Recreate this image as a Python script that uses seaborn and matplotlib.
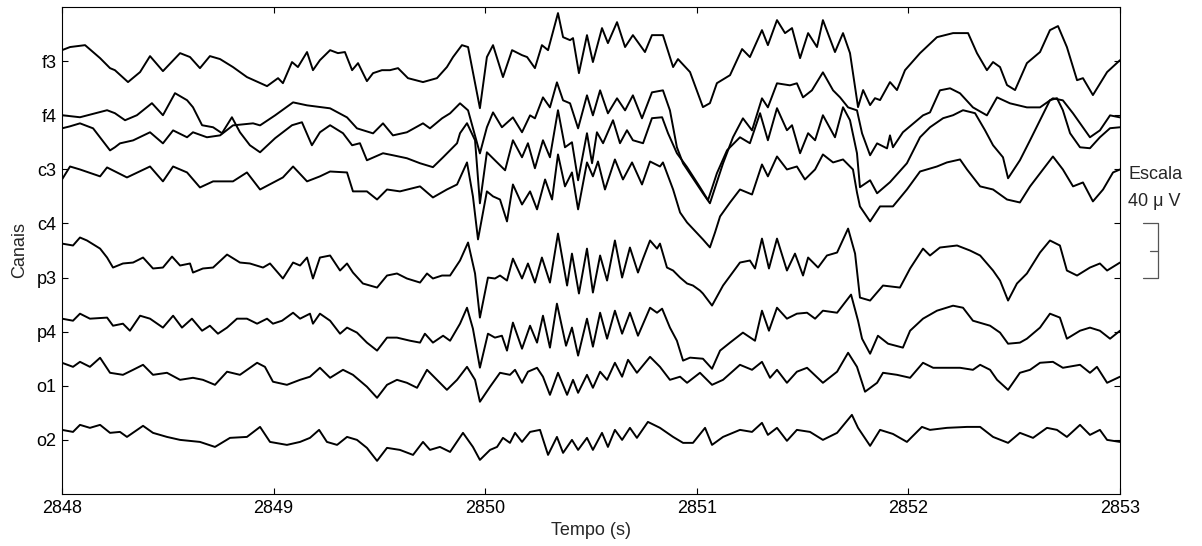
import numpy as np
import pandas as pd
import matplotlib
matplotlib.use("Agg")
import matplotlib.pyplot as plt
import matplotlib.transforms as mtransforms
import seaborn as sns

# ---------------- data ----------------
T0 = 2848.0                      # start time (s)
channels = ["f3", "f4", "c3", "c4", "p3", "p4", "o1", "o2"]
scale_uv = 40.0                  # microvolts per channel spacing (scale bar)
xticks = [2848, 2849, 2850, 2851, 2852, 2853]

# times (s after T0) and amplitudes (uV, relative to channel baseline)
t_f3 = [0, .038, .109, .180, .227, .250, .312, .369, .416, .477, .558, .605, .652, .699, .747, .808, .874, .969, 1.021, 1.044,
        1.087, 1.115, 1.158, 1.186, 1.219, 1.267, 1.304, 1.337, 1.371, 1.399, 1.441, 1.470, 1.512, 1.550, 1.588, 1.635, 1.706, 1.772, 1.819, 1.848,
        1.890, 1.919, 1.975, 2.008, 2.037, 2.084, 2.127, 2.174, 2.198, 2.235, 2.268, 2.297, 2.344, 2.368, 2.401, 2.415, 2.443, 2.481, 2.509, 2.552,
        2.580, 2.623, 2.661, 2.698, 2.755, 2.788, 2.840, 2.888, 2.911, 2.968, 3.029, 3.062, 3.095, 3.157, 3.214, 3.251, 3.308, 3.336, 3.379, 3.417,
        3.450, 3.488, 3.526, 3.568, 3.596, 3.653, 3.691, 3.724, 3.762, 3.786, 3.819, 3.842, 3.866, 3.913, 3.946, 3.984, 4.055, 4.135, 4.211, 4.282,
        4.324, 4.371, 4.400, 4.433, 4.466, 4.504, 4.560, 4.622, 4.669, 4.707, 4.749, 4.797, 4.825, 4.872, 4.939, 5.000]
v_f3 = [8.1, 10.4, 11.8, 2.2, -5.2, -6.7, -15.5, -8.1, 3.7, -7.4, 5.9, 3.0, -5.2, 3.7, 1.5, -4.4, -11.8, -18.5, -12.6, -16.3,
        -0.7, -4.4, 6.7, -6.7, 0.7, 8.1, 5.9, 6.7, -6.7, -1.5, -14.8, -8.9, -6.7, -6.7, -5.2, -12.6, -15.5, -12.6, -4.4, 3.0,
        11.8, 10.4, -34.8, 3.0, 11.8, -11.8, 8.1, 4.4, 3.0, -5.2, 11.8, 8.1, 35.5, 17.7, 15.5, 17.0, -8.9, 19.2, -0.7, 24.4,
        13.3, 28.8, 10.4, 19.2, 6.7, 19.2, 19.2, -4.4, 1.5, -8.1, -34.0, -31.1, -16.3, -10.4, 8.9, 3.0, 22.9, 11.8, 30.3, 20.7,
        24.4, 2.2, 20.7, 10.4, 30.3, 6.7, 20.7, 5.9, -34.0, -21.4, -32.5, -27.4, -28.8, -15.5, -21.4, -6.7, 5.9, 17.7, 20.7, 20.7,
        5.9, -6.7, -0.7, -4.4, -17.7, -21.4, -1.5, 6.7, 22.9, 25.9, 10.4, -14.1, -12.6, -25.1, -8.1, 0.7]

t_f4 = [0, .085, .213, .250, .298, .354, .425, .477, .534, .591, .619, .662, .714, .756, .803, .841, .888, .936, 1.007, 1.087,
        1.134, 1.181, 1.219, 1.267, 1.328, 1.371, 1.408, 1.441, 1.517, 1.564, 1.630, 1.692, 1.753, 1.801, 1.867,
        1.881, 1.914, 1.952, 1.975, 2.008, 2.046, 2.094, 2.131, 2.174, 2.202, 2.235, 2.273, 2.306, 2.344, 2.377, 2.410, 2.439, 2.481, 2.505, 2.528,
        2.557, 2.604, 2.637, 2.670, 2.698, 2.746, 2.788, 2.836, 2.864, 2.906, 2.954,
        3.015, 3.053, 3.095, 3.143, 3.204, 3.251, 3.299, 3.336, 3.379, 3.426, 3.450, 3.488, 3.526, 3.559, 3.596, 3.653, 3.691, 3.724, 3.757, 3.771,
        3.819, 3.852, 3.913, 3.993, 4.055,
        4.102, 4.164, 4.211, 4.258, 4.315, 4.362, 4.400, 4.447, 4.471, 4.527, 4.575, 4.622, 4.669, 4.702, 4.730, 4.764, 4.811, 4.858, 4.905, 4.953, 5.000]
v_f4 = [0, -1.5, 3.7, 1.5, -3.7, 0, 8.9, 0, 16.3, 11.1, 5.9, -7.4, -8.9, -13.3, -1.5, -12.6, -22.2, -27.4, -17.0, -7.4,
        -5.2, -22.2, -12.6, -7.4, -13.3, -22.2, -20.7, -33.3, -28.1, -29.6, -31.8, -35.5, -38.4, -31.1, -20.7,
        -13.3, -5.9, -18.5, -65.1, -27.4, -33.3, -40.7, -18.5, -31.1, -20.7, -39.2, -18.5, -31.1, 3.7, -23.7, -20.0, -48.1, -13.3, -35.5, -12.6,
        -20.7, -3.7, -20.7, -11.1, -18.5, -20.7, -2.2, -1.5, -13.3, -28.1, -38.4,
        -53.2, -62.8, -42.9, -25.9, -16.3, -20.7, 1.5, -18.5, 5.2, -11.1, -7.4, -28.1, -13.3, -18.5, 0, -16.3, 5.9, -3.7, -28.1, -53.2,
        -48.1, -57.7, -49.5, -35.5, -16.3,
        -8.9, -2.2, 0, 3.7, 1.5, -11.1, -22.2, -31.1, -46.6, -33.3, -18.5, -3.7, 11.1, 12.6, 3.7, -13.3, -23.7, -24.4, -16.3, -9.6, -8.9]

t_c3 = [0, .038, .085, .147, .227, .250, .274, .336, .416, .477, .525, .591, .619, .685, .747, .808, .903,
        .936, 1.007, 1.092, 1.158, 1.267, 1.347, 1.394, 1.470, 1.517, 1.564, 1.630, 1.706, 1.739, 1.796, 1.834, 1.881, 1.919, 1.975, 2.008, 2.037,
        2.079, 2.131, 2.174, 2.212, 2.235, 2.273, 2.306, 2.339, 2.368, 2.401, 2.439, 2.481, 2.509, 2.543, 2.580, 2.623, 2.661, 2.698, 2.741, 2.788,
        2.840, 2.873, 2.906, 2.935,
        3.029, 3.062, 3.124, 3.171, 3.218, 3.261, 3.308, 3.336, 3.379, 3.440, 3.473, 3.502, 3.544, 3.596, 3.644, 3.677, 3.715, 3.757, 3.781, 3.819,
        3.852, 3.899, 3.913, 3.927, 3.974, 4.069,
        4.102, 4.149, 4.197, 4.244, 4.305, 4.371, 4.419, 4.480, 4.560, 4.622, 4.683, 4.730, 4.778, 4.858, 4.905, 4.953, 5.000]
v_c3 = [30.3, 31.8, 34.0, 30.3, 14.0, 16.3, 19.2, 21.4, 27.4, 19.2, 28.8, 23.7, 27.4, 23.7, 25.1, 32.5, 34.0,
        32.5, 39.9, 49.5, 47.3, 45.1, 38.4, 30.3, 26.6, 34.0, 25.1, 27.4, 34.0, 30.3, 37.7, 41.4, 48.8, 43.6, 11.8, 31.1, 42.1,
        31.1, 38.4, 27.4, 39.9, 37.7, 53.2, 45.8, 64.3, 51.0, 48.8, 30.3, 54.7, 39.9, 58.4, 41.4, 52.5, 43.6, 54.7, 37.7, 56.9,
        58.4, 43.6, 16.3, 4.4,
        -17.7, -25.1, 4.4, 23.7, 37.7, 28.8, 52.5, 45.8, 63.6, 62.1, 63.6, 53.2, 58.4, 71.7, 58.4, 53.2, 45.8, 43.6, 26.6, 10.4,
        19.2, 15.5, 25.1, 16.3, 27.4, 39.9,
        42.1, 58.4, 59.9, 56.2, 45.8, 39.9, 53.2, 48.8, 45.8, 45.8, 52.5, 51.0, 41.4, 23.7, 28.8, 39.9, 38.4]

t_c4 = [0, .038, .085, .180, .213, .307, .416, .477, .525, .591,
        .652, .714, .808, .874, .936, 1.044, 1.092, 1.158, 1.219, 1.267,
        1.347, 1.375, 1.441, 1.489, 1.536, 1.597, 1.692, 1.753, 1.819, 1.867,
        1.914, 1.942, 1.966, 2.008, 2.037, 2.070, 2.103, 2.131, 2.174, 2.212,
        2.245, 2.283, 2.316, 2.344, 2.377, 2.410, 2.439, 2.481, 2.509, 2.533,
        2.566, 2.613, 2.651, 2.694, 2.741, 2.779, 2.826, 2.840, 2.888, 2.921,
        2.954, 3.029, 3.062, 3.086, 3.110, 3.157, 3.204, 3.261, 3.308, 3.336,
        3.379, 3.426, 3.473, 3.511, 3.559, 3.596, 3.644, 3.691, 3.738, 3.757,
        3.771, 3.819, 3.866, 3.927, 3.993, 4.055, 4.135, 4.182, 4.244, 4.277,
        4.339, 4.400, 4.466, 4.527, 4.575, 4.636, 4.683, 4.730, 4.778, 4.825,
        4.872, 4.920, 4.967, 5.000]
v_c4 = [32.5, 42.1, 39.9, 34.8, 41.4, 34.0, 42.1, 31.1, 42.1, 37.7,
        26.6, 31.1, 31.1, 37.7, 25.1, 34.0, 42.1, 31.1, 34.8, 38.4,
        37.7, 23.7, 23.7, 17.7, 25.1, 23.7, 27.4, 19.2, 25.1, 28.8,
        45.1, 20.0, -11.8, 23.7, 20.0, 17.7, 1.5, 28.8, 14.0, 23.7,
        10.4, 32.5, 17.7, 51.0, 27.4, 37.7, 10.4, 45.1, 34.8, 45.8,
        25.1, 47.3, 32.5, 45.1, 28.8, 45.8, 42.1, 45.1, 25.1, 8.1,
        0.7, -11.8, -17.7, -6.7, 5.2, 15.5, 25.1, 21.4, 43.6, 34.8,
        49.5, 39.9, 42.1, 32.5, 39.9, 51.0, 45.1, 47.3, 39.9, 22.9,
        12.6, 1.5, 12.6, 12.6, 25.1, 38.4, 42.1, 45.1, 47.3, 39.9,
        27.4, 25.1, 17.7, 15.5, 27.4, 39.9, 49.5, 39.9, 27.4, 30.3,
        16.3, 25.1, 37.7, 39.9]

t_p3 = [0, .052, .085, .118, .180, .213, .241, .288, .336, .383,
        .430, .477, .520, .558, .605, .619, .666, .714, .780, .841,
        .888, .950, .983, 1.044, 1.092, 1.125, 1.158, 1.186, 1.219, 1.267,
        1.314, 1.347, 1.375, 1.422, 1.489, 1.536, 1.583, 1.630, 1.692, 1.725,
        1.753, 1.796, 1.834, 1.881, 1.919, 1.952, 1.975, 2.013, 2.046, 2.070,
        2.103, 2.131, 2.174, 2.202, 2.235, 2.268, 2.306, 2.344, 2.387, 2.410,
        2.443, 2.481, 2.509, 2.543, 2.576, 2.613, 2.647, 2.684, 2.722, 2.746,
        2.779, 2.812, 2.826, 2.859, 2.888, 2.921, 2.954, 2.982, 3.015, 3.029,
        3.072, 3.124, 3.204, 3.251, 3.275, 3.308, 3.341, 3.379, 3.426, 3.464,
        3.502, 3.526, 3.573, 3.615, 3.663, 3.715, 3.748, 3.771, 3.819, 3.880,
        3.960, 4.008, 4.069, 4.102, 4.149, 4.230, 4.291, 4.339, 4.400, 4.433,
        4.471, 4.513, 4.560, 4.622, 4.669, 4.716, 4.749, 4.797, 4.858, 4.905,
        4.939, 5.000]
v_p3 = [25.1, 23.7, 29.6, 27.4, 21.4, 14.8, 7.4, 10.4, 11.1, 14.8,
        6.7, 7.4, 15.5, 8.9, 10.4, 3.7, 6.7, 7.4, 17.0, 11.1,
        10.4, 7.4, 10.4, -0.7, 11.1, 8.9, 14.8, -0.7, 14.8, 16.3,
        5.2, 10.4, 3.7, -4.4, -7.4, 1.5, 3.0, -0.7, -3.7, 3.0,
        -0.7, 1.5, 1.5, 12.6, 25.9, 3.0, -29.6, 0, -0.7, 1.5,
        -2.2, 14.0, -0.7, 10.4, -3.7, 14.8, -3.7, 32.5, -5.9, 17.7,
        -11.8, 21.4, -11.1, 16.3, -2.2, 27.4, 0, 22.2, 3.7, 14.0,
        27.4, 21.4, 25.1, 7.4, 5.2, 0, -4.4, -5.9, -9.6, -11.8,
        -20.7, -5.9, 11.1, 12.6, 6.7, 28.8, 6.7, 28.8, 5.2, 17.7,
        1.5, 14.8, 7.4, 16.3, 18.5, 36.2, 17.7, -14.8, -17.0, -5.9,
        -7.4, 6.7, 21.4, 16.3, 22.2, 23.7, 20.0, 16.3, 5.2, -2.2,
        -17.0, -4.4, 3.0, 18.5, 27.4, 23.7, 5.2, 1.5, 7.4, 10.4,
        5.2, 11.1]

t_p4 = [0, .052, .085, .132, .213, .241, .288, .321, .369, .416,
        .477, .525, .567, .614, .662, .699, .737, .780, .827, .874,
        .922, .969, .997, 1.040, 1.092, 1.125, 1.172, 1.186, 1.219, 1.267,
        1.314, 1.347, 1.394, 1.441, 1.489, 1.536, 1.583, 1.645, 1.692, 1.715,
        1.753, 1.801, 1.834, 1.881, 1.914, 1.942, 1.975, 2.013, 2.046, 2.079,
        2.103, 2.131, 2.174, 2.212, 2.245, 2.273, 2.306, 2.339, 2.382, 2.410,
        2.439, 2.481, 2.509, 2.543, 2.576, 2.613, 2.647, 2.684, 2.722, 2.779,
        2.812, 2.836, 2.873, 2.906, 2.935, 2.968, 3.029, 3.072, 3.110, 3.157,
        3.218, 3.275, 3.308, 3.341, 3.379, 3.426, 3.473, 3.521, 3.559, 3.596,
        3.663, 3.729, 3.762, 3.781, 3.819, 3.856, 3.904, 3.974, 4.008, 4.069,
        4.135, 4.211, 4.258, 4.305, 4.386, 4.433, 4.471, 4.527, 4.560, 4.622,
        4.669, 4.716, 4.749, 4.811, 4.858, 4.905, 4.953, 5.000]
v_p4 = [9.6, 8.1, 13.3, 9.6, 10.4, 4.4, 5.9, 0.7, 11.8, 9.6,
        3.0, 11.8, 3.0, 9.6, 0.7, 4.4, -1.5, 3.0, 9.6, 9.6,
        5.9, 9.6, 5.9, 8.1, 14.0, 9.6, 13.3, 5.9, 13.3, 8.1,
        -1.5, 3.0, -0.7, -8.1, -14.0, -4.4, -4.4, -6.7, -8.1, -1.5,
        -8.1, -3.0, -6.7, 5.9, 17.7, 2.2, -26.6, -1.5, -4.4, -3.0,
        -14.0, 6.7, -12.6, 4.4, -8.1, 11.8, -11.8, 20.7, -10.4, 3.0,
        -17.7, 9.6, -11.1, 14.0, -5.2, 15.5, -1.5, 14.0, -3.0, 17.7,
        14.0, 17.0, 3.0, -6.7, -21.4, -19.2, -20.0, -27.4, -14.0, -8.1,
        -0.7, -6.7, 15.5, 0.7, 17.7, 9.6, 13.3, 14.0, 9.6, 15.5,
        14.0, 27.4, 8.1, -5.2, -16.3, -3.0, -8.9, -11.8, 0.7, 9.6,
        15.5, 19.2, 17.7, 8.1, 4.4, -0.7, -8.9, -8.1, -5.2, 3.0,
        13.3, 10.4, -5.2, 0.7, 3.0, 0.7, -5.2, 0.7]

t_o1 = [0, .052, .085, .132, .180, .227, .288, .336, .383, .430,
        .496, .558, .619, .666, .723, .780, .841, .922, .959, .997,
        1.063, 1.125, 1.172, 1.219, 1.267, 1.328, 1.375, 1.441, 1.489, 1.536,
        1.583, 1.630, 1.678, 1.725, 1.772, 1.819, 1.867, 1.914, 1.952, 1.975,
        2.023, 2.070, 2.117, 2.141, 2.174, 2.202, 2.245, 2.273, 2.306, 2.344,
        2.387, 2.415, 2.439, 2.481, 2.509, 2.543, 2.576, 2.613, 2.647, 2.675,
        2.717, 2.779, 2.826, 2.873, 2.921, 2.954, 3.015, 3.072, 3.124, 3.204,
        3.261, 3.308, 3.346, 3.379, 3.426, 3.473, 3.521, 3.596, 3.663, 3.715,
        3.757, 3.795, 3.852, 3.880, 3.946, 4.008, 4.069, 4.117, 4.182, 4.244,
        4.305, 4.339, 4.386, 4.419, 4.471, 4.527, 4.575, 4.622, 4.683, 4.730,
        4.811, 4.858, 4.891, 4.939, 5.000]
v_o1 = [17.0, 14.0, 17.7, 14.0, 20.7, 9.6, 8.1, 11.8, 15.5, 8.1,
        9.6, 4.4, 5.9, 4.4, 0.7, 10.4, 8.1, 17.0, 14.0, 3.0,
        0.7, 4.4, 6.7, 13.3, 5.9, 11.8, 8.1, -0.7, -8.9, 0.7,
        4.4, 2.2, -1.5, 11.8, 4.4, -3.0, 4.4, 14.0, 4.4, -11.8,
        -0.7, 9.6, 8.1, 11.8, 2.2, 10.4, 13.3, 6.7, -6.7, 9.6,
        -6.7, 4.4, -5.2, 8.1, -1.5, 10.4, 4.4, 17.0, 6.7, 19.2,
        9.6, 21.4, 14.0, 4.4, 6.7, 2.2, 9.6, 0.7, 4.4, 15.5,
        11.8, 17.7, 5.9, 11.8, 2.2, 10.4, 13.3, 2.2, 10.4, 24.4,
        14.0, -4.4, 2.2, 9.6, 8.1, 5.9, 17.0, 13.3, 13.3, 13.3,
        11.8, 15.5, 11.8, 4.4, -3.0, 9.6, 11.8, 17.0, 17.7, 13.3,
        15.5, 9.6, 14.0, 2.2, 6.7]

t_o2 = [0, .052, .085, .132, .180, .227, .274, .307, .383, .430,
        .496, .558, .652, .723, .794, .874, .936, .983, 1.063, 1.125,
        1.172, 1.215, 1.252, 1.300, 1.347, 1.394, 1.441, 1.489, 1.536, 1.597,
        1.659, 1.706, 1.739, 1.786, 1.834, 1.895, 1.942, 1.975, 2.023, 2.056,
        2.084, 2.117, 2.141, 2.174, 2.212, 2.259, 2.297, 2.339, 2.368, 2.410,
        2.439, 2.481, 2.509, 2.552, 2.580, 2.613, 2.647, 2.684, 2.717, 2.769,
        2.826, 2.888, 2.935, 2.982, 3.039, 3.072, 3.124, 3.204, 3.261, 3.308,
        3.336, 3.379, 3.426, 3.473, 3.535, 3.596, 3.663, 3.733, 3.762, 3.819,
        3.866, 3.927, 3.993, 4.064, 4.102, 4.182, 4.277, 4.339, 4.400, 4.471,
        4.527, 4.589, 4.655, 4.702, 4.749, 4.811, 4.858, 4.905, 4.939, 5.000]
v_o2 = [7.4, 5.9, 11.1, 8.9, 11.1, 5.2, 5.9, 2.2, 10.4, 5.2,
        2.2, 0, -1.5, -5.2, 1.5, 2.2, 9.6, -1.5, -3.7, -1.5,
        1.5, 7.4, -1.5, -3.7, 2.2, 0, -5.9, -15.5, -5.9, -7.4,
        -11.1, -1.5, -7.4, -5.2, -8.9, 5.2, -5.2, -14.8, -7.4, -5.2,
        1.5, -2.2, 5.2, -1.5, 5.9, 7.4, -11.1, 2.2, -9.6, 0,
        -7.4, 1.5, -7.4, 5.2, -5.2, 7.4, 0, 8.9, 1.5, 13.3,
        8.9, 2.2, -2.2, -2.2, 8.9, -3.7, 2.2, 7.4, 5.9, 12.6,
        3.7, 8.9, -0.7, 7.4, 5.9, 0, 5.2, 18.5, 8.9, -4.4,
        7.4, 4.4, -1.5, 9.6, 7.4, 8.9, 9.6, 9.6, 2.2, -2.2,
        5.2, 1.5, 8.9, 7.4, 2.2, 11.1, 3.7, 7.4, 0, -1.5]

series = {"f3": (t_f3, v_f3), "f4": (t_f4, v_f4), "c3": (t_c3, v_c3), "c4": (t_c4, v_c4),
          "p3": (t_p3, v_p3), "p4": (t_p4, v_p4), "o1": (t_o1, v_o1), "o2": (t_o2, v_o2)}

# ---------------- build long table ----------------
frames = []
n_ch = len(channels)
for i, ch in enumerate(channels):
    t, v = series[ch]
    n = min(len(t), len(v))
    base = n_ch - i
    frames.append(pd.DataFrame({
        "Tempo": T0 + np.asarray(t[:n], float),
        "y": base + np.asarray(v[:n], float) / scale_uv,
        "Canal": ch,
    }))
df = pd.concat(frames, ignore_index=True)

# ---------------- plot ----------------
sns.set_style("ticks")
plt.rcParams["font.family"] = ["Liberation Sans", "DejaVu Sans"]
plt.rcParams["font.size"] = 13

W, H = 1202, 546
fig = plt.figure(figsize=(W / 100, H / 100), dpi=100)
ax = fig.add_axes([62 / W, 52 / H, 1058 / W, 487 / H])

sns.lineplot(data=df, x="Tempo", y="y", units="Canal", estimator=None,
             color="black", linewidth=1.4, sort=False, legend=False, ax=ax)
for ln in ax.get_lines():
    ln.set_solid_joinstyle("round")
    ln.set_solid_capstyle("round")

ax.set_xlim(xticks[0], xticks[-1])
ax.set_ylim(0, n_ch + 1)
ax.set_xticks(xticks)
ax.set_xticklabels([str(x) for x in xticks])
ax.set_yticks(range(1, n_ch + 1))
ax.set_yticklabels(channels[::-1])
ax.set_xlabel("Tempo (s)", fontsize=13, labelpad=4)
ax.set_ylabel("Canais", fontsize=13, labelpad=6)

for s in ax.spines.values():
    s.set_visible(True)
    s.set_color("black")
    s.set_linewidth(0.8)
ax.tick_params(direction="in", length=4.5, width=0.8, top=True, right=True,
               labelsize=13, colors="black", pad=4)

# scale bar (40 uV = one channel spacing) outside the right edge
trans = mtransforms.blended_transform_factory(ax.transAxes, ax.transData)
y_top = n_ch + 1 - 4          # aligned with c4 baseline
y_bot = y_top - scale_uv / scale_uv
x0, x1, xm = 1.0217, 1.0359, 1.0284
ax.plot([x0, x1, x1, x0], [y_top, y_top, y_bot, y_bot], transform=trans,
        clip_on=False, color="#555555", lw=0.9)
ax.plot([xm, x1], [(y_top + y_bot) / 2] * 2, transform=trans,
        clip_on=False, color="#555555", lw=0.9)
ax.text(1.0076, 5.90, "Escala", transform=trans, ha="left", va="center", fontsize=13)
ax.text(1.0076, 5.40, "40 \u03bc V", transform=trans, ha="left", va="center", fontsize=13)

fig.savefig("out.png", dpi=100)
